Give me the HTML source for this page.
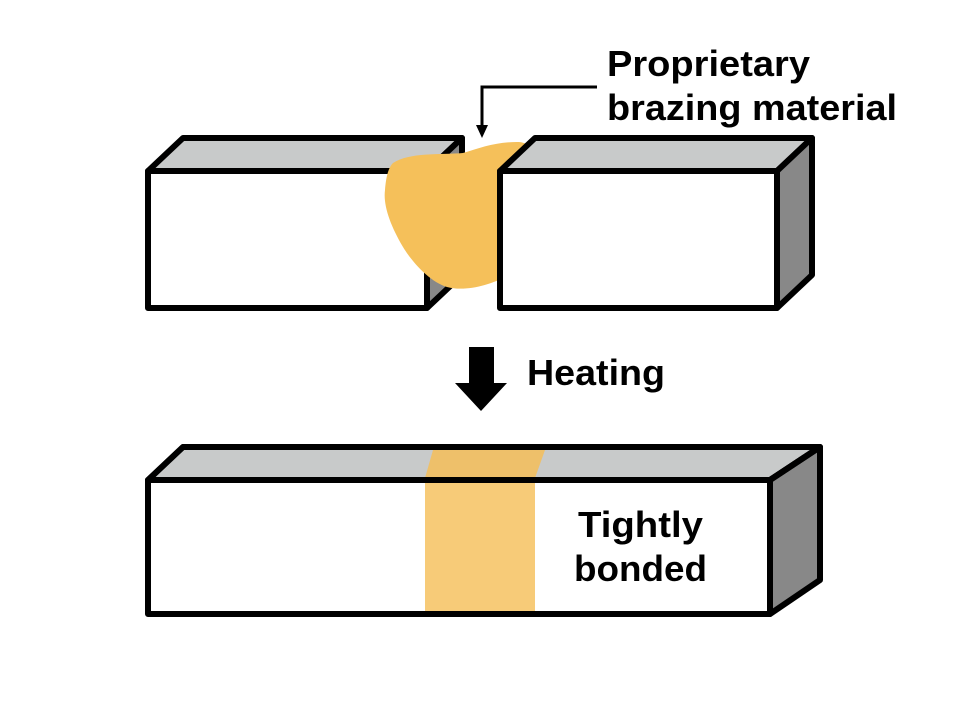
<!DOCTYPE html>
<html><head><meta charset="utf-8"><style>
html,body{margin:0;padding:0;background:#fff;}
svg{display:block;}
text{font-family:"Liberation Sans","Noto Sans CJK JP",sans-serif;font-weight:bold;fill:#000;}
</style></head><body>
<svg width="960" height="720" viewBox="0 0 960 720" xmlns="http://www.w3.org/2000/svg">
<g stroke="#000" stroke-width="6" stroke-linejoin="round">
  <!-- box 1 -->
  <polygon points="148,171 183,138 462,138 427,171" fill="#C8CACA"/>
  <polygon points="427,171 462,138 462,275 427,308" fill="#888"/>
  <rect x="148" y="171" width="279" height="137" fill="#fff"/>
</g>
<!-- blob -->
<path d="M393,163 C410,152 440,155 463,153 C480,148 495,142 517,142 C530,142 535,150 528,160 L505,185 L505,277 C490,285 465,292 447,287 C430,282 412,262 403,247 C390,225 383,205 385,190 C386,178 388,168 393,163 Z" fill="#F5C05A"/>
<g stroke="#000" stroke-width="6" stroke-linejoin="round">
  <!-- box 2 -->
  <polygon points="500,171 535,138 812,138 777,171" fill="#C8CACA"/>
  <polygon points="777,171 812,138 812,275 777,308" fill="#888"/>
  <rect x="500" y="171" width="277" height="137" fill="#fff"/>
</g>
<!-- leader -->
<polyline points="597,87 482,87 482,128" fill="none" stroke="#000" stroke-width="3"/>
<polygon points="476,125 488,125 482,138" fill="#000"/>
<text x="607" y="76" font-size="36" textLength="203" lengthAdjust="spacingAndGlyphs">Proprietary</text>
<text x="607" y="120" font-size="36" textLength="290" lengthAdjust="spacingAndGlyphs">brazing material</text>
<!-- down arrow -->
<polygon points="469,347 494,347 494,383 507,383 481,411 455,383 469,383" fill="#000"/>
<text x="527" y="385" font-size="36" textLength="138" lengthAdjust="spacingAndGlyphs">Heating</text>
<!-- bottom bar -->
<g stroke="#000" stroke-width="6" stroke-linejoin="round">
  <polygon points="148,480 183,447 820,447 770,480" fill="#C8CACA"/>
  <polygon points="770,480 820,447 820,580 770,614" fill="#888"/>
</g>
<polygon points="433,450 545,450 535,478 425,478" fill="#EEC06A"/>
<rect x="425" y="483" width="110" height="128" fill="#F7CB78"/>
<g stroke="#000" stroke-width="6" stroke-linejoin="round" fill="none">
  <rect x="148" y="480" width="622" height="134"/>
  <polygon points="148,480 183,447 820,447 770,480"/>
</g>
<text x="578" y="537" font-size="36" textLength="125" lengthAdjust="spacingAndGlyphs">Tightly</text>
<text x="574" y="581" font-size="36" textLength="133" lengthAdjust="spacingAndGlyphs">bonded</text>
</svg>
</body></html>
